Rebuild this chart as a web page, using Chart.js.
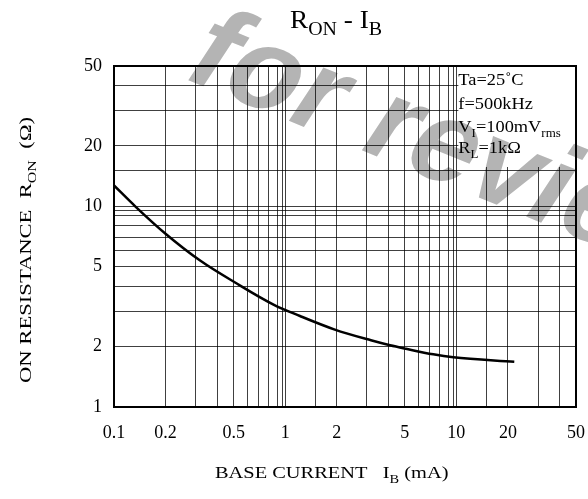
<!DOCTYPE html>
<html>
<head>
<meta charset="utf-8">
<script src="https://cdn.jsdelivr.net/npm/chart.js@4.4.1/dist/chart.umd.min.js"></script>
<style>
  html, body { margin: 0; padding: 0; background: #fff; }
</style>
</head>
<body>
<canvas id="ronChart" width="588" height="499"></canvas>
<script>
// ON resistance vs base current, log-log
const baseCurrent  = [0.1, 0.133, 0.2, 0.32, 0.51, 0.86, 1.22, 1.95, 3.17, 4.1, 5.08, 7.33, 9.6, 21.8];
const onResistance = [12.7, 10, 7.3, 5.35, 4.17, 3.23, 2.84, 2.43, 2.15, 2.03, 1.95, 1.83, 1.77, 1.68];

const xTickLabels = [0.1, 0.2, 0.5, 1, 2, 5, 10, 20, 50];
const yTickLabels = [1, 2, 5, 10, 20, 50];
const xDoubleLines = [1, 10];
const yDoubleLines = [10];

// rich text runs: [text, isSubscript]
const titleRuns  = [["R", 0], ["ON", 1], [" - I", 0], ["B", 1]];
const xTitleRuns = [["BASE CURRENT   I", 0], ["B", 1], [" (mA)", 0]];
const yTitleRuns = [["ON RESISTANCE  R", 0], ["ON", 1], ["  (Ω)", 0]];
const conditionRuns = [
  [["Ta=25˚C", 0]],
  [["f=500kHz", 0]],
  [["V", 0], ["I", 1], ["=100mV", 0], ["rms", 1]],
  [["R", 0], ["L", 1], ["=1kΩ", 0]]
];
const watermarkText = "for review";

const SERIF = '"Liberation Serif", "Times New Roman", serif';
const GRID = "rgba(0,0,0,0.75)";
const AREA = { left: 114, right: 576, top: 66, bottom: 407 };

function listed(list, v){
  return list.some(t => Math.abs(Math.log10(t) - Math.log10(v)) < 1e-6);
}

function richWidth(ctx, runs, size){
  let w = 0;
  runs.forEach(([t, sub]) => {
    ctx.font = (sub ? Math.round(size * 0.72) : size) + "px " + SERIF;
    w += ctx.measureText(t).width;
  });
  return w;
}

// draws text with subscripts, optionally stretched horizontally
function drawRich(ctx, runs, x, y, size, stretch){
  ctx.save();
  ctx.translate(x, y);
  ctx.scale(stretch || 1, 1);
  ctx.textAlign = "left";
  ctx.textBaseline = "alphabetic";
  let cx = 0;
  runs.forEach(([t, sub]) => {
    ctx.font = (sub ? Math.round(size * 0.72) : size) + "px " + SERIF;
    ctx.fillText(t, cx, sub ? size * 0.28 : 0);
    cx += ctx.measureText(t).width;
  });
  ctx.restore();
}

const decorPlugin = {
  id: "decor",
  afterDatasetsDraw(chart){
    const ctx = chart.ctx;
    const a = chart.chartArea;
    const xs = chart.scales.x, ys = chart.scales.y;
    ctx.save();

    // doubled decade lines
    ctx.strokeStyle = GRID;
    ctx.lineWidth = 1;
    xDoubleLines.forEach(v => {
      const px = Math.round(xs.getPixelForValue(v)) - 3 + 0.5;
      ctx.beginPath(); ctx.moveTo(px, a.top); ctx.lineTo(px, a.bottom); ctx.stroke();
    });
    yDoubleLines.forEach(v => {
      const py = Math.round(ys.getPixelForValue(v)) + 4 + 0.5;
      ctx.beginPath(); ctx.moveTo(a.left, py); ctx.lineTo(a.right, py); ctx.stroke();
    });

    // conditions box
    const bx = xs.getPixelForValue(10) + 2;
    ctx.fillStyle = "#fff";
    ctx.fillRect(bx, a.top, a.right - bx, 101);
    ctx.fillStyle = "#000";
    const lineY = [85, 109, 132, 153];
    conditionRuns.forEach((runs, i) => drawRich(ctx, runs, bx, lineY[i], 17, 1.08));

    // frame
    ctx.strokeStyle = "#000";
    ctx.lineWidth = 2;
    ctx.strokeRect(a.left, a.top, a.right - a.left, a.bottom - a.top);

    // title
    const tw = richWidth(ctx, titleRuns, 26) * 1.05;
    drawRich(ctx, titleRuns, 336 - tw / 2, 28, 26, 1.05);

    // axis titles
    drawRich(ctx, xTitleRuns, 215, 478, 17, 1.2);
    ctx.translate(31, 383);
    ctx.rotate(-Math.PI / 2);
    drawRich(ctx, yTitleRuns, 0, 0, 17, 1.33);
    ctx.restore();
  },
  afterDraw(chart){
    const ctx = chart.ctx;
    ctx.save();
    ctx.globalCompositeOperation = "multiply";
    ctx.fillStyle = "#b4b4b4";
    ctx.font = 'bold 118px "Liberation Sans", Arial, sans-serif';
    ctx.translate(178, 76);
    ctx.rotate(22 * Math.PI / 180);
    ctx.transform(1, 0, -0.2, 1, 0, 0);
    ctx.fillText(watermarkText, 0, 0);
    ctx.restore();
  }
};

const chart = new Chart(document.getElementById("ronChart"), {
  type: "line",
  data: {
    datasets: [{
      data: baseCurrent.map((x, i) => ({ x: x, y: onResistance[i] })),
      borderColor: "#000",
      borderWidth: 2.5,
      pointRadius: 0,
      fill: false,
      cubicInterpolationMode: "monotone"
    }]
  },
  options: {
    responsive: false,
    animation: false,
    devicePixelRatio: 1,
    layout: { autoPadding: false, padding: { top: AREA.top, right: 588 - AREA.right, left: 0, bottom: 0 } },
    plugins: { legend: { display: false }, tooltip: { enabled: false } },
    scales: {
      x: {
        type: "logarithmic",
        min: 0.1,
        max: 50,
        afterFit: s => { s.height = 499 - AREA.bottom; s.paddingLeft = 0; s.paddingRight = 0; },
        border: { display: false },
        grid: { color: GRID, lineWidth: 1, drawTicks: false },
        ticks: {
          autoSkip: false,
          maxRotation: 0,
          padding: 15,
          color: "#000",
          font: { family: SERIF, size: 18 },
          callback: v => listed(xTickLabels, v) ? String(+v.toPrecision(3)) : ""
        }
      },
      y: {
        type: "logarithmic",
        min: 1,
        max: 50,
        afterFit: s => { s.width = AREA.left; },
        border: { display: false },
        grid: { color: GRID, lineWidth: 1, drawTicks: false },
        ticks: {
          autoSkip: false,
          padding: 12,
          color: "#000",
          font: { family: SERIF, size: 18 },
          callback: v => listed(yTickLabels, v) ? String(+v.toPrecision(3)) : ""
        }
      }
    }
  },
  plugins: [decorPlugin]
});

// keep the plot frame where it belongs if the layout nudged it
const drift = AREA.right - chart.chartArea.right;
if (Math.abs(drift) > 0.5) {
  chart.options.layout.padding.right -= drift;
  chart.update();
}
</script>
</body>
</html>
